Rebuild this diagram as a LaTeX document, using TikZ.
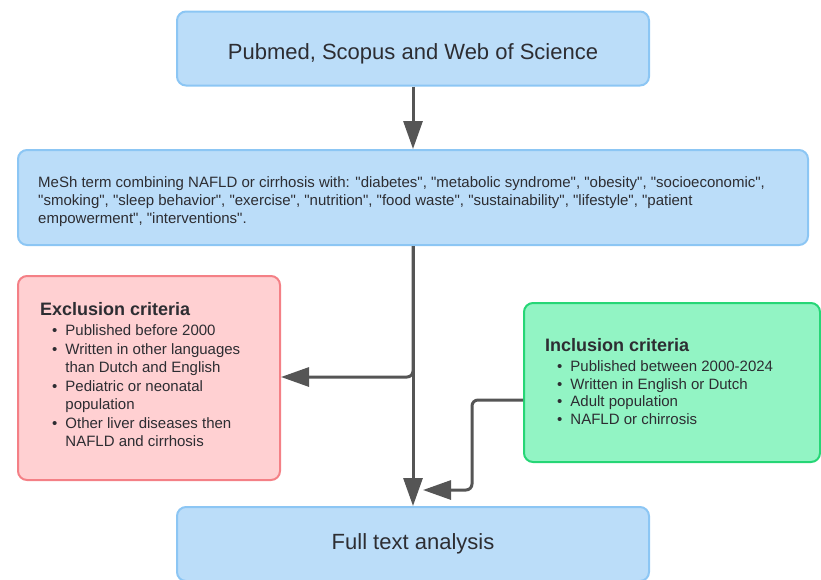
\documentclass[tikz,border=0pt]{standalone}
\usepackage{fontspec}
\setmainfont{Liberation Sans}[Ligatures=TeXOff]
\usetikzlibrary{arrows.meta}
\definecolor{bluefill}{RGB}{187,221,249}
\definecolor{blueline}{RGB}{140,198,244}
\definecolor{redfill}{RGB}{255,208,210}
\definecolor{redline}{RGB}{244,128,134}
\definecolor{greenfill}{RGB}{146,244,196}
\definecolor{greenline}{RGB}{38,214,118}
\definecolor{txt}{RGB}{45,45,50}
\definecolor{arr}{RGB}{85,85,85}
\tikzset{
  box/.style={draw=#1line, fill=#1fill, line width=2pt, rounded corners=9pt, inner sep=0pt},
  conn/.style={draw=arr, line width=3pt, rounded corners=6pt, -{Triangle[length=28pt,width=19pt]}},
  lbl/.style={text=txt, inner sep=0pt, anchor=base west},
  bigl/.style={text=txt, inner sep=0pt, anchor=base, font=\fontsize{22}{26}\selectfont},
  head/.style={lbl, font=\fontsize{18}{22}\selectfont\bfseries},
}
\newcommand{\q}{\symbol{34}}
\newcommand{\bul}{\textbullet}
\begin{document}
\begin{tikzpicture}[x=1pt,y=-1pt]
\useasboundingbox (0,0) rectangle (821,579);
% boxes
\node[box=blue, minimum width=472pt, minimum height=74pt] (top) at (413,48.5) {};
\node[bigl] (toptxt) at (413,59.5) {Pubmed, Scopus and Web of Science};
\node[box=blue, minimum width=790pt, minimum height=95pt] (mesh) at (413,197.5) {};
\node[lbl, font=\fontsize{15}{18}\selectfont] (meshtxt) at (38,187.3) {\begin{tabular}[t]{@{}l@{}}MeSh term combining NAFLD or cirrhosis with: \q diabetes\q, \q metabolic syndrome\q, \q obesity\q, \q socioeconomic\q,\\ \q smoking\q, \q sleep behavior\q, \q exercise\q, \q nutrition\q, \q food waste\q, \q sustainability\q, \q lifestyle\q, \q patient\\ empowerment\q, \q interventions\q.\end{tabular}};
\node[box=red, minimum width=262pt, minimum height=204pt] (excl) at (149,378) {};
\node[head] (exclhead) at (40,315.5) {Exclusion criteria};
\node[lbl, font=\fontsize{15}{18.5}\selectfont] (excllist) at (52,335.5) {\begin{tabular}[t]{@{}l@{\hspace{8pt}}l@{}}
\bul & Published before 2000\\
\bul & Written in other languages\\
 & than Dutch and English\\
\bul & Pediatric or neonatal\\
 & population\\
\bul & Other liver diseases then\\
 & NAFLD and cirrhosis
\end{tabular}};
\node[box=green, minimum width=296pt, minimum height=159pt] (incl) at (672,382.5) {};
\node[head] (inclhead) at (545,351.5) {Inclusion criteria};
\node[lbl, font=\fontsize{15}{17.7}\selectfont] (incllist) at (557,371.5) {\begin{tabular}[t]{@{}l@{\hspace{8pt}}l@{}}
\bul & Published between 2000-2024\\
\bul & Written in English or Dutch\\
\bul & Adult population\\
\bul & NAFLD or chirrosis
\end{tabular}};
\node[box=blue, minimum width=472pt, minimum height=74pt] (full) at (413,544) {};
\node[bigl] (fulltxt) at (413,549.5) {Full text analysis};
% connectors
\coordinate (bend) at (413,377);
\coordinate (incin) at (423,490);
\draw[conn] (top.south) -- (mesh.north);
\draw[conn] (mesh.south) -- (full.north);
\draw[conn] (mesh.south) -- (bend) -- (excl.east |- bend);
\draw[conn] (incl.west |- 0,400) -- (472,400) -- (472,490) -- (incin);
\end{tikzpicture}
\end{document}
